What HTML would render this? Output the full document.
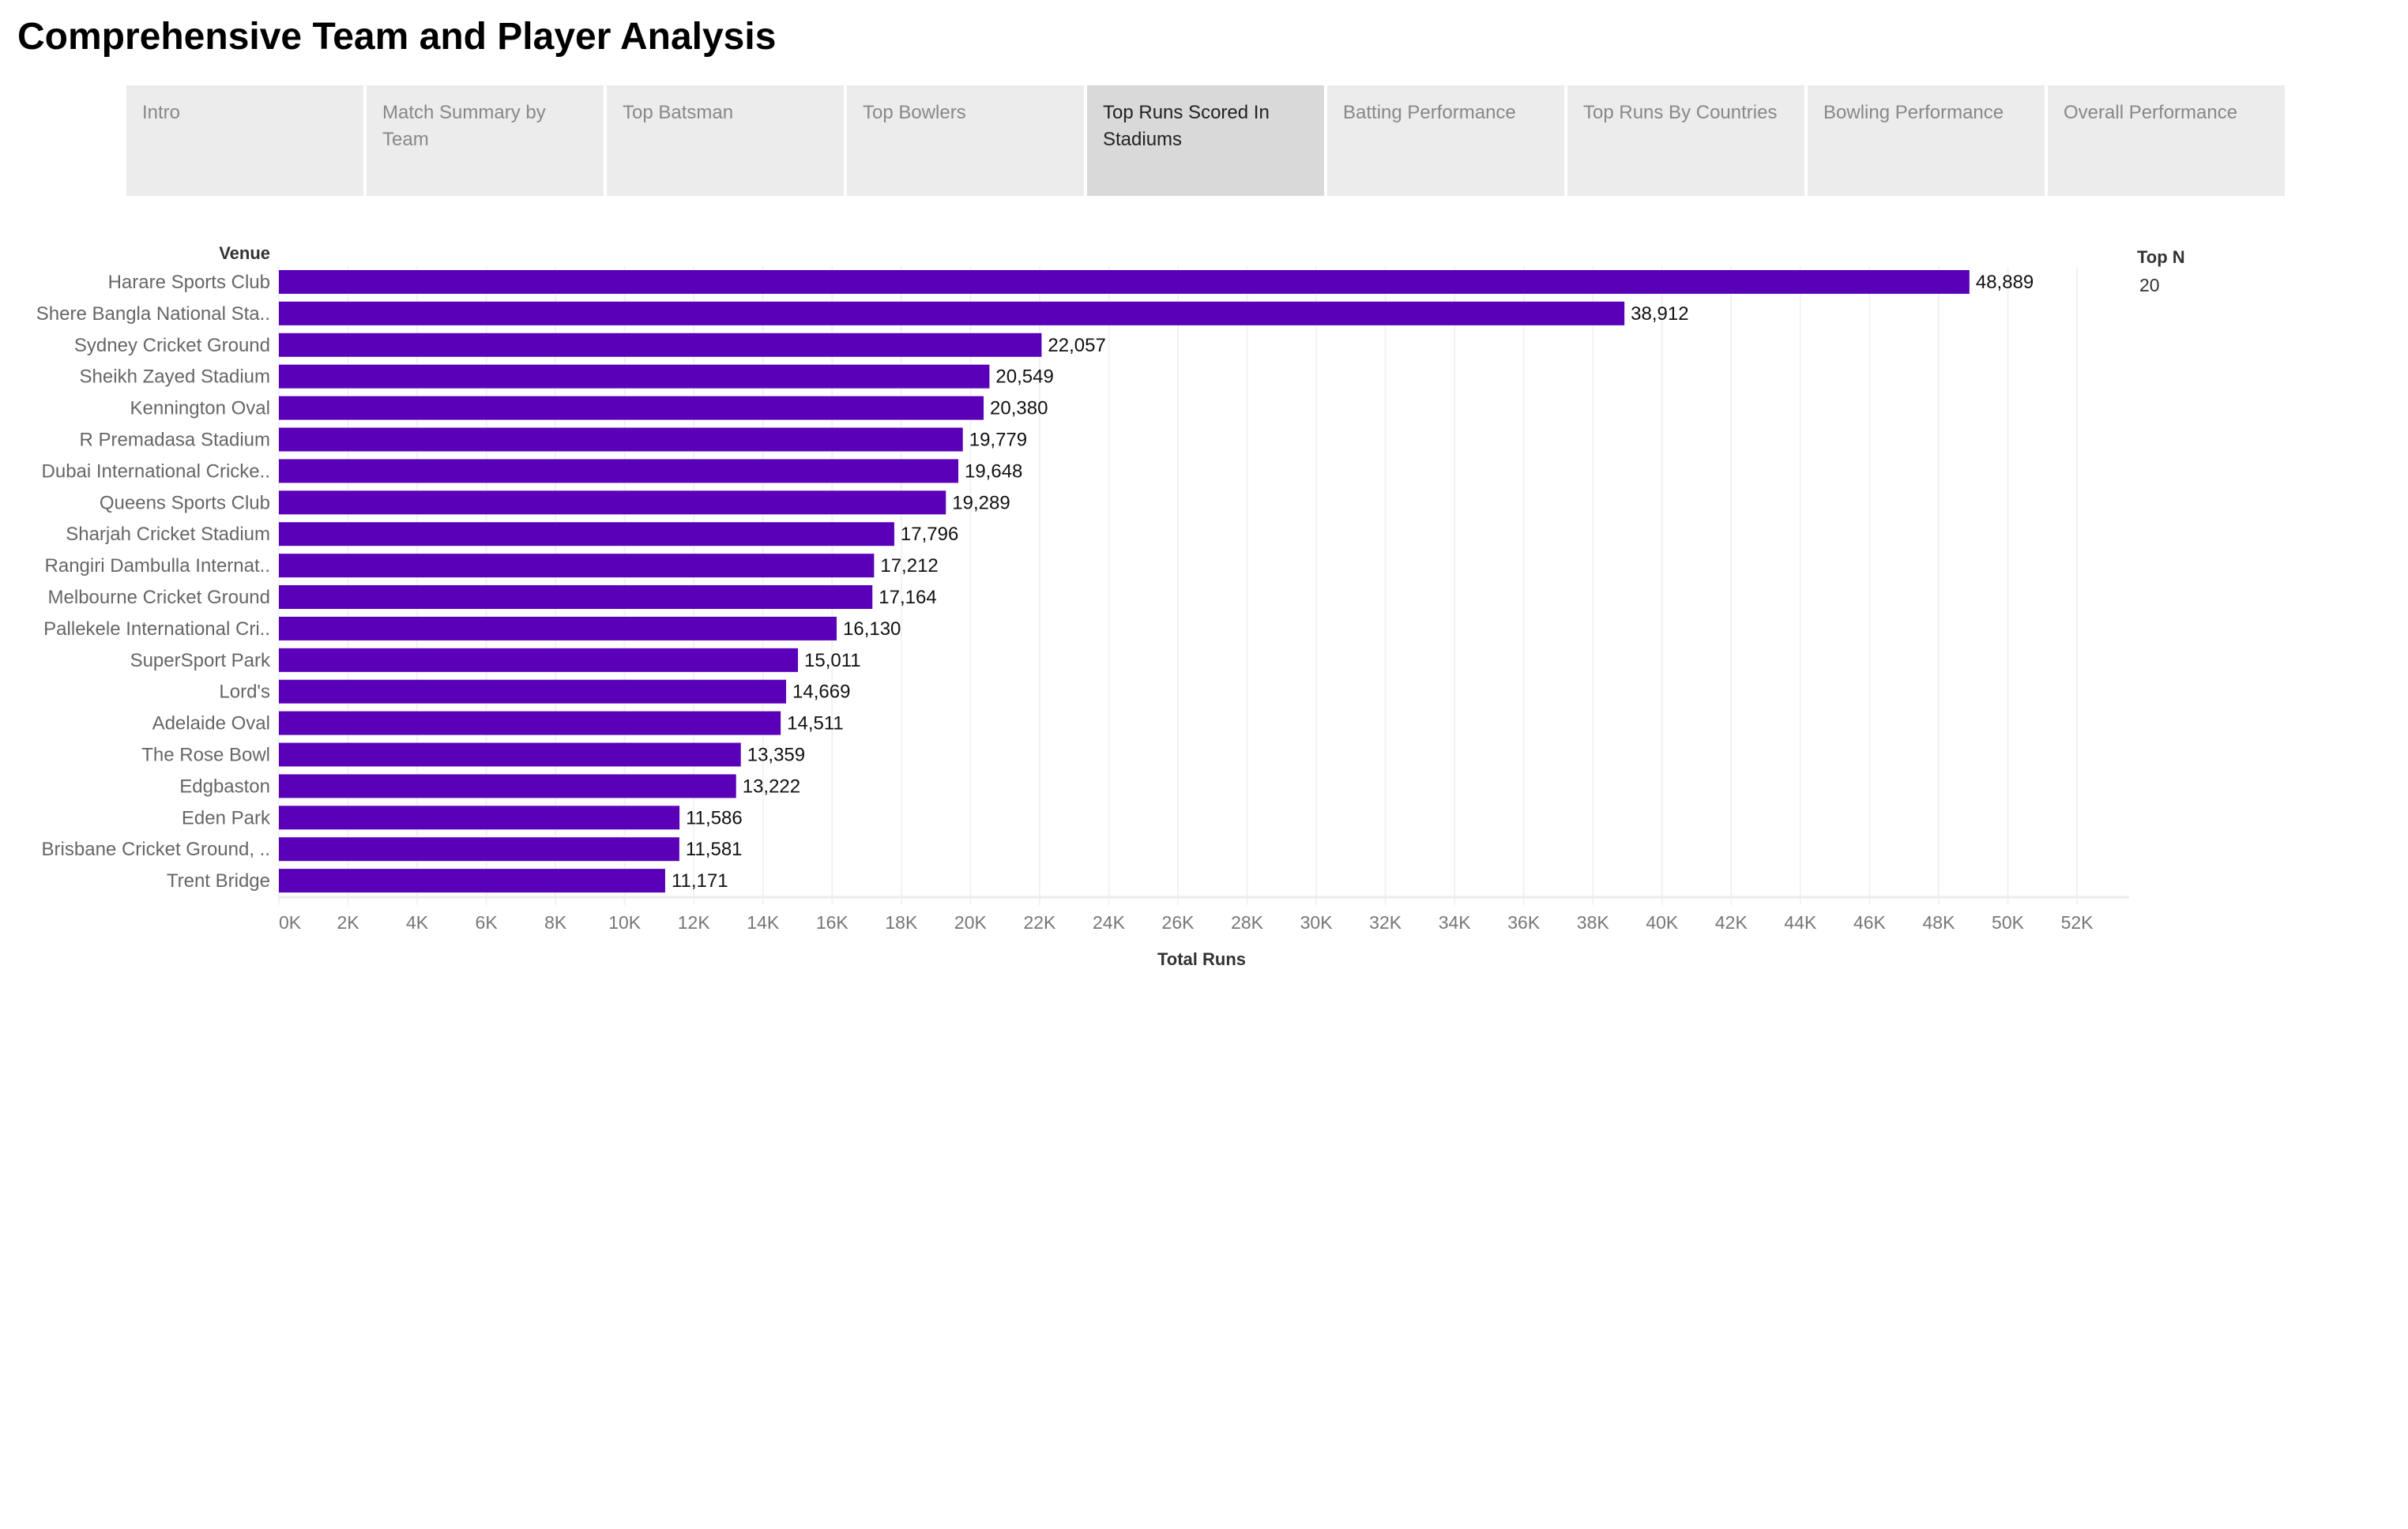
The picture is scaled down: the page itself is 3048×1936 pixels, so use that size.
<!DOCTYPE html>
<html><head><meta charset="utf-8">
<style>
body{margin:0;width:3048px;height:1936px;background:#fff;font-family:"Liberation Sans",Arial,sans-serif;position:relative;overflow:hidden}
h1{position:absolute;left:22px;top:19px;margin:0;font-size:48px;font-weight:bold;color:#000}
.tab{position:absolute;top:108px;width:300px;height:140px;background:#ececec;color:#888;font-size:24px;line-height:34px;box-sizing:border-box;padding:18px 20px 0 20px}
.tab.active{background:#d9d9d9;color:#222}
svg text{font-family:"Liberation Sans",Arial,sans-serif}
</style></head><body>
<h1>Comprehensive Team and Player Analysis</h1>
<div id="tabs"></div>
<svg id="chart" width="3048" height="1936" style="position:absolute;left:0;top:0"></svg>
<script>
const tabNames=["Intro","Match Summary by Team","Top Batsman","Top Bowlers","Top Runs Scored In Stadiums","Batting Performance","Top Runs By Countries","Bowling Performance","Overall Performance"];
const venues=["Harare Sports Club","Shere Bangla National Sta..","Sydney Cricket Ground","Sheikh Zayed Stadium","Kennington Oval","R Premadasa Stadium","Dubai International Cricke..","Queens Sports Club","Sharjah Cricket Stadium","Rangiri Dambulla Internat..","Melbourne Cricket Ground","Pallekele International Cri..","SuperSport Park","Lord's","Adelaide Oval","The Rose Bowl","Edgbaston","Eden Park","Brisbane Cricket Ground, ..","Trent Bridge"];
const runs=[48889,38912,22057,20549,20380,19779,19648,19289,17796,17212,17164,16130,15011,14669,14511,13359,13222,11586,11581,11171];
const ticks=[0,2,4,6,8,10,12,14,16,18,20,22,24,26,28,30,32,34,36,38,40,42,44,46,48,50,52];

const tabsEl=document.getElementById('tabs');
tabNames.forEach((n,i)=>{
  const d=document.createElement('div');
  d.className='tab'+(i===4?' active':'');
  d.style.left=(160+i*304)+'px';
  d.textContent=n;
  
  
  tabsEl.appendChild(d);
});

const svg=document.getElementById('chart');
const NS='http://www.w3.org/2000/svg';
const x0=353, perK=43.77, plotRight=2695, top0=338, axisY=1136;
const xs=v=>x0+v/1000*perK;
const yc=i=>357+i*39.9;
function mk(tag,attrs,txt){const e=document.createElementNS(NS,tag);for(const k in attrs)e.setAttribute(k,attrs[k]);if(txt!=null)e.textContent=txt;svg.appendChild(e);return e;}

ticks.forEach(t=>{
  const x=xs(t*1000);
  const g=mk('line',{x1:x,x2:x,y1:top0,y2:axisY+10,stroke:'#f2f2f2','stroke-width':2});
  
  
  const lb=mk('text',{x:x,y:1176,'text-anchor':t===0?'start':'middle','font-size':23,fill:'#777'},t+'K');
  
  
});
const ax=mk('line',{x1:x0,x2:plotRight,y1:axisY,y2:axisY,stroke:'#ececec','stroke-width':3});



venues.forEach((v,i)=>{
  const c=yc(i);
  const l=mk('text',{x:342,y:c+8,'text-anchor':'end','font-size':24,fill:'#666'},v);
  
  
  const b=mk('rect',{x:x0,y:c-15,width:xs(runs[i])-x0,height:30,fill:'#5a00b8'});
  
  
  const vl=mk('text',{x:xs(runs[i])+8,y:c+8,'font-size':24,fill:'#111'},runs[i].toLocaleString('en-US'));
  
  
});
const vh=mk('text',{x:342,y:328,'text-anchor':'end','font-size':22,'font-weight':'bold',fill:'#333'},'Venue');


const xt=mk('text',{x:1521,y:1222,'text-anchor':'middle','font-size':22,'font-weight':'bold',fill:'#333'},'Total Runs');


const tn=mk('text',{x:2705,y:333,'font-size':22,'font-weight':'bold',fill:'#333'},'Top N');


const tv=mk('text',{x:2708,y:369,'font-size':23,fill:'#333'},'20');


</script>
</body></html>
